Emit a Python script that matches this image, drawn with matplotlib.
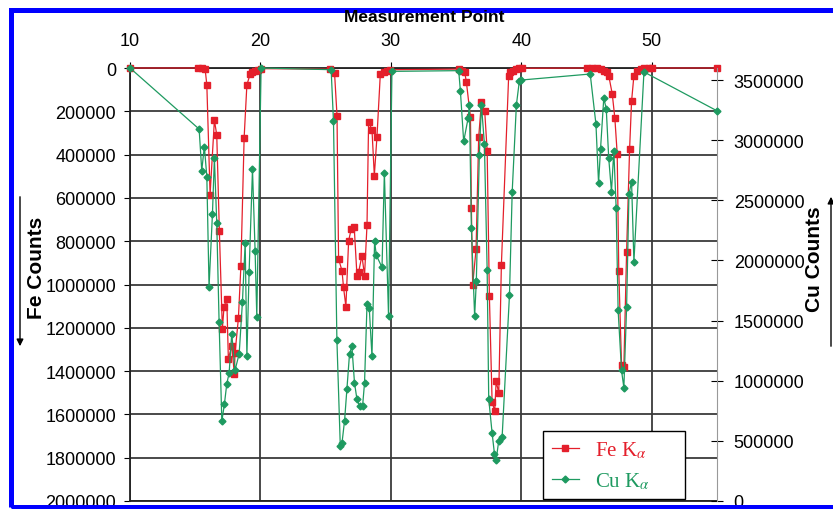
import matplotlib.pyplot as plt
from matplotlib.patches import Rectangle
from matplotlib.ticker import FuncFormatter

plt.rcParams['font.family'] = ['Liberation Sans', 'DejaVu Sans']
plt.rcParams['mathtext.fontset'] = 'stix'

# Fe K-alpha counts (left axis, inverted)
fe_x = [10, 15.22, 15.53, 15.76, 15.89, 16.14, 16.47, 16.65, 16.85, 17.08, 17.21, 17.42, 17.54,
        17.80, 18.00, 18.05, 18.31, 18.50, 18.75, 18.96, 19.21, 19.34, 19.59, 19.85, 20.05,
        25.35, 25.68, 25.87, 25.99, 26.25, 26.37, 26.55, 26.76, 26.96, 27.19, 27.40, 27.52,
        27.78, 27.98, 28.17, 28.29, 28.55, 28.73, 28.93, 29.19, 29.44, 29.70, 29.95,
        35.20, 35.46, 35.66, 35.79, 36.10, 36.17, 36.27, 36.53, 36.73, 36.94, 37.19, 37.38,
        37.55, 37.76, 37.96, 38.07, 38.27, 38.47, 39.03, 39.16, 39.37, 39.60, 39.80, 40.06,
        45.05, 45.43, 45.82, 46.07, 46.32, 46.58, 46.70, 46.97, 47.17, 47.35, 47.47, 47.68,
        47.86, 48.07, 48.30, 48.45, 48.63, 48.89, 49.14, 49.40, 49.78, 50.04, 55]
fe_counts = [0, 0, 2000, 5000, 78000, 585000, 241000, 309000, 751000, 1205000, 1102000, 1067000,
             1344000, 1283000, 1413000, 1318000, 1156000, 916000, 322000, 78000, 28000, 20000,
             12000, 8000, 3000,
             5000, 23000, 220000, 882000, 936000, 1013000, 1102000, 798000, 744000, 736000,
             959000, 944000, 867000, 959000, 724000, 251000, 285000, 497000, 320000, 28000,
             20000, 12000, 8000,
             5000, 12000, 20000, 66000, 228000, 647000, 1002000, 836000, 320000, 158000, 197000,
             382000, 1052000, 1544000, 1583000, 1447000, 1501000, 910000, 35000, 20000, 12000,
             5000, 2000, 1000,
             0, 0, 2000, 5000, 12000, 20000, 35000, 120000, 232000, 397000, 936000, 1370000,
             1380000, 848000, 374000, 154000, 35000, 12000, 5000, 2000, 0, 0, 0]

# Cu K-alpha counts (right axis)
cu_x = [10, 15.30, 15.50, 15.70, 15.89, 16.06, 16.32, 16.47, 16.65, 16.83, 17.04, 17.24, 17.42,
        17.60, 17.80, 18.05, 18.37, 18.62, 18.83, 18.96, 19.13, 19.39, 19.59, 19.72, 20.05,
        25.42, 25.60, 25.86, 26.12, 26.25, 26.45, 26.63, 26.83, 27.01, 27.21, 27.40, 27.60,
        27.83, 27.98, 28.17, 28.34, 28.55, 28.75, 28.88, 29.32, 29.50, 29.82, 30.08,
        35.20, 35.33, 35.58, 35.92, 36.02, 36.17, 36.42, 36.55, 36.78, 36.94, 37.17, 37.38,
        37.50, 37.76, 37.94, 38.07, 38.27, 38.53, 39.09, 39.30, 39.62, 39.85, 40.00,
        45.28, 45.72, 45.92, 46.07, 46.32, 46.51, 46.70, 46.91, 47.09, 47.27, 47.42, 47.68,
        47.86, 48.07, 48.25, 48.45, 48.63, 49.40, 55]
cu_counts = [3600000, 3092000, 2747000, 2947000, 2697000, 1781000, 2386000, 2850000, 2314000,
             1489000, 664000, 808000, 975000, 1064000, 1392000, 1086000, 1225000, 1656000,
             2147000, 1203000, 1900000, 2758000, 2081000, 1531000, 3600000,
             3586000, 3156000, 1342000, 461000, 481000, 669000, 933000, 1225000, 1286000,
             983000, 844000, 789000, 789000, 983000, 1636000, 1608000, 1203000, 2161000,
             2044000, 1942000, 2731000, 1536000, 3572000,
             3578000, 3406000, 2989000, 3183000, 3289000, 2272000, 1536000, 1828000, 2878000,
             3294000, 2967000, 1919000, 850000, 564000, 392000, 342000, 503000, 536000,
             1711000, 2572000, 3292000, 3494000, 3500000,
             3550000, 3133000, 2642000, 2925000, 3350000, 3261000, 2850000, 2572000, 2911000,
             2433000, 1586000, 1086000, 942000, 1614000, 2550000, 2656000, 1989000, 3567000,
             3244000]

point_ticks = [10, 20, 30, 40, 50]
fe_ticks = list(range(0, 2000001, 200000))
cu_ticks = list(range(0, 3500001, 500000))

fe_color = '#e41f2b'
cu_color = '#1e9a60'
plain = FuncFormatter(lambda v, p: '%d' % v)

fig = plt.figure(figsize=(8.33, 5.10), dpi=100)
ax = fig.add_axes([130 / 833, 8 / 510, 587 / 833, 433 / 510])
ax.set_xlim(10, 55)
ax.set_ylim(2000000, 0)
ax.xaxis.tick_top()
ax.set_xticks(point_ticks)
ax.set_yticks(fe_ticks)
ax.yaxis.set_major_formatter(plain)
ax.tick_params(axis='y', length=4, pad=6, labelsize=13)
ax.tick_params(axis='x', length=4, pad=10, labelsize=13)
ax.grid(True, color='#3a3a3a', lw=1.3)
ax.set_axisbelow(True)
for s in ['left', 'top', 'bottom']:
    ax.spines[s].set_color('#222222')
    ax.spines[s].set_linewidth(1.3)
ax.spines['right'].set_visible(False)

l1, = ax.plot(fe_x, fe_counts, color=fe_color, lw=0.9, marker='s', ms=5,
              label=r'Fe K$_{\alpha}$', clip_on=False, zorder=3)

ax2 = ax.twinx()
ax2.set_ylim(0, 3600000)
ax2.set_yticks(cu_ticks)
ax2.yaxis.set_major_formatter(plain)
ax2.tick_params(axis='y', direction='inout', length=8, pad=8, labelsize=13)
for s in ['left', 'top', 'bottom']:
    ax2.spines[s].set_visible(False)
ax2.spines['right'].set_color('#999999')
ax2.spines['right'].set_linewidth(0.8)

l2, = ax2.plot(cu_x, cu_counts, color=cu_color, lw=0.9, marker='D', ms=3.5,
               label=r'Cu K$_{\alpha}$', clip_on=False, zorder=3)

leg = ax2.legend([l1, l2], [l1.get_label(), l2.get_label()], loc='lower left',
                 bbox_to_anchor=(0.704, 0.004, 0.241, 0.185), mode='expand',
                 prop={'family': 'Liberation Serif', 'size': 15}, fancybox=False,
                 edgecolor='black', framealpha=1, handlelength=1.3, labelcolor='linecolor',
                 borderaxespad=0)
leg.get_frame().set_linewidth(1.0)

fig.text(424 / 833, 1 - 18 / 510, 'Measurement Point', ha='center', va='center',
         fontsize=12.5, fontweight='bold')
fig.text(37 / 833, 1 - 268 / 510, 'Fe Counts', rotation=90, ha='center', va='center',
         fontsize=15, fontweight='bold')
fig.text(815 / 833, 1 - 259 / 510, 'Cu Counts', rotation=90, ha='center', va='center',
         fontsize=15, fontweight='bold')

# arrows next to the axis titles
ax.annotate('', xy=(20 / 833, 1 - 350 / 510), xytext=(20 / 833, 1 - 195 / 510),
            xycoords='figure fraction', annotation_clip=False,
            arrowprops=dict(arrowstyle='-|>', color='black', lw=1, mutation_scale=10))
ax.annotate('', xy=(831 / 833, 1 - 195 / 510), xytext=(831 / 833, 1 - 350 / 510),
            xycoords='figure fraction', annotation_clip=False,
            arrowprops=dict(arrowstyle='-|>', color='black', lw=1, mutation_scale=10))

# blue frame
fig.add_artist(Rectangle((10.5 / 833, 2 / 510), 1.0, (510 - 12.5) / 510,
                         transform=fig.transFigure, fill=False, edgecolor='#0000ff', lw=3.6))

fig.savefig('out.png', dpi=100)
